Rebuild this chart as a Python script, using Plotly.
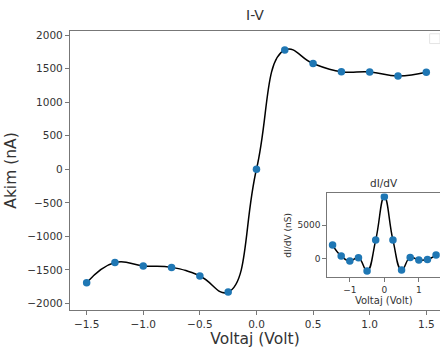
import plotly.graph_objects as go

# I-V data
voltage = [-1.5, -1.25, -1.0, -0.75, -0.5, -0.25, 0.0, 0.25, 0.5, 0.75, 1.0, 1.25, 1.5]
current_nA = [-1690, -1390, -1440, -1462, -1590, -1830, 0, 1778, 1575, 1453, 1450, 1390, 1445]
# dI/dV data
didv_nS = [2000, 350, -400, 100, -1900, 2750, 9250, 2750, -1750, 150, -250, -150, 500]

main_yticks = [-2000, -1500, -1000, -500, 0, 500, 1000, 1500, 2000]
main_xticks = [-1.5, -1.0, -0.5, 0.0, 0.5, 1.0, 1.5]
inset_xticks = [-1, 0, 1]
inset_yticks = [0, 5000]

BLUE = "#1f77b4"
AX = "#777777"
TXT = "#333333"
FONT = "DejaVu Sans"

fig = go.Figure()

# main curve and points
fig.add_trace(go.Scatter(x=voltage, y=current_nA, mode="lines",
                         line=dict(color="black", width=1.5, shape="spline", smoothing=1.3),
                         xaxis="x", yaxis="y", hoverinfo="skip"))
fig.add_trace(go.Scatter(x=voltage, y=current_nA, mode="markers",
                         marker=dict(color=BLUE, size=7.5),
                         xaxis="x", yaxis="y"))
# inset
fig.add_trace(go.Scatter(x=voltage, y=didv_nS, mode="lines",
                         line=dict(color="black", width=1.5, shape="spline", smoothing=1.3),
                         xaxis="x2", yaxis="y2", hoverinfo="skip"))
fig.add_trace(go.Scatter(x=voltage, y=didv_nS, mode="markers",
                         marker=dict(color=BLUE, size=7.5),
                         xaxis="x2", yaxis="y2"))

axis_common = dict(showgrid=False, zeroline=False, showline=True, mirror=True,
                   linecolor=AX, linewidth=1.2, ticks="outside", tickcolor=AX,
                   ticklen=4, tickwidth=1)

fig.update_layout(
    width=440, height=349,
    margin=dict(l=70, r=0, t=31, b=39),
    paper_bgcolor="white", plot_bgcolor="white",
    showlegend=False,
    font=dict(family=FONT, color=TXT),
    xaxis=dict(**axis_common, domain=[0, 1], range=[-1.647, 1.621],
               tickvals=main_xticks, tickformat=".1f",
               tickfont=dict(size=10.5, color=TXT),
               title=dict(text="Voltaj (Volt)", font=dict(size=15.5, color=TXT), standoff=4)),
    yaxis=dict(**axis_common, domain=[0, 1], range=[-2097, 2060],
               tickvals=main_yticks,
               tickfont=dict(size=10.5, color=TXT),
               title=dict(text="Akim (nA)", font=dict(size=15.5, color=TXT), standoff=6)),
    xaxis2=dict(**axis_common, domain=[0.6957, 1], range=[-1.65, 1.614], anchor="y2",
                tickvals=inset_xticks, tickfont=dict(size=9, color=TXT),
                title=dict(text="Voltaj (Volt)", font=dict(size=10, color=TXT), standoff=2)),
    yaxis2=dict(**axis_common, domain=[0.117, 0.418], range=[-2850, 9760], anchor="x2",
                tickvals=inset_yticks, tickfont=dict(size=9, color=TXT),
                title=dict(text="dI/dV (nS)", font=dict(size=9, color=TXT), standoff=4)),
    shapes=[
        dict(type="rect", xref="paper", yref="paper", x0=0.972, x1=1.0, y0=0.955, y1=0.99,
             line=dict(color="#e4e4e4", width=1), fillcolor="white", layer="above"),
    ],
    annotations=[
        dict(text="I-V", xref="paper", yref="paper", x=0.5, y=1, yshift=6,
             xanchor="center", yanchor="bottom", showarrow=False,
             font=dict(size=14, color=TXT)),
        dict(text="dI/dV", xref="x2 domain", yref="y2 domain", x=0.5, y=1, yshift=2,
             xanchor="center", yanchor="bottom", showarrow=False,
             font=dict(size=10.5, color=TXT)),
    ],
)

fig.write_html("out.html")
